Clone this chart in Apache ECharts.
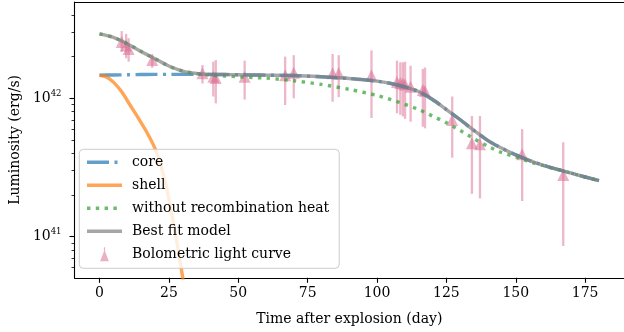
<!DOCTYPE html>
<html><head><meta charset="utf-8">
<script src="https://cdn.jsdelivr.net/npm/echarts@6/dist/echarts.min.js"></script>
<style>html,body{margin:0;padding:0;background:#fff}#c{width:624px;height:332px}</style>
</head><body><div id="c"></div>
<script>
// ---------------- data ----------------
const xTicks = [0, 25, 50, 75, 100, 125, 150, 175];
const yMajorTicks = [1e41, 1e42];
const yMinorTicks = [6e40, 7e40, 8e40, 9e40, 2e41, 3e41, 4e41, 5e41, 6e41, 7e41, 8e41, 9e41, 2e42, 3e42, 4e42, 5e42];

const modelDays = [0, 5, 10, 15, 20, 25, 30, 35, 40, 45, 50, 55, 60, 70, 80, 90, 100, 105, 110, 115, 120, 125, 130, 135, 140, 145, 150, 155, 160, 165, 170, 175, 180];
const bestFit = [2.92e42, 2.76e42, 2.48e42, 2.18e42, 1.93e42, 1.71e42, 1.57e42, 1.51e42, 1.49e42, 1.485e42, 1.48e42, 1.475e42, 1.47e42, 1.46e42, 1.43e42, 1.39e42, 1.33e42, 1.28e42, 1.21e42, 1.12e42, 0.98e42, 0.83e42, 0.70e42, 0.585e42, 0.495e42, 0.435e42, 0.39e42, 0.355e42, 0.328e42, 0.306e42, 0.288e42, 0.27e42, 0.254e42];
const coreLum = [1.47e42, 1.475e42, 1.48e42, 1.485e42, 1.49e42, 1.49e42, 1.49e42, 1.49e42, 1.488e42, 1.485e42, 1.48e42, 1.475e42, 1.47e42, 1.46e42, 1.43e42, 1.39e42, 1.33e42, 1.28e42, 1.21e42, 1.12e42, 0.98e42, 0.83e42, 0.70e42, 0.585e42, 0.495e42, 0.435e42, 0.39e42, 0.355e42, 0.328e42, 0.306e42, 0.288e42, 0.27e42, 0.254e42];
const noRecomb = [2.92e42, 2.76e42, 2.48e42, 2.18e42, 1.93e42, 1.71e42, 1.57e42, 1.51e42, 1.47e42, 1.45e42, 1.43e42, 1.415e42, 1.40e42, 1.34e42, 1.26e42, 1.16e42, 1.05e42, 0.98e42, 0.905e42, 0.83e42, 0.745e42, 0.665e42, 0.585e42, 0.51e42, 0.45e42, 0.405e42, 0.377e42, 0.348e42, 0.326e42, 0.306e42, 0.288e42, 0.27e42, 0.254e42];

const shellDays = [0, 2.5, 5, 8, 11, 14, 17, 20, 22, 24, 26, 28, 30, 32];
const shellLum = [1.469e42, 1.429e42, 1.309e42, 1.114e42, 8.95e41, 7.19e41, 5.71e41, 4.34e41, 3.33e41, 2.33e41, 1.47e41, 8.85e40, 5.04e40, 2.61e40];

const obsDays = [8.0, 9.6, 10.5, 19.0, 37.1, 41.0, 41.9, 52.3, 66.9, 70.0, 84.0, 86.2, 98.0, 107.2, 108.4, 109.3, 110.1, 112.1, 116.5, 117.3, 127.1, 134.2, 137.1, 152.3, 167.1];
const obsLum = [2.55e42, 2.41e42, 2.27e42, 1.89e42, 1.52e42, 1.43e42, 1.40e42, 1.43e42, 1.47e42, 1.53e42, 1.52e42, 1.52e42, 1.46e42, 1.31e42, 1.29e42, 1.28e42, 1.26e42, 1.21e42, 1.15e42, 1.13e42, 6.97e41, 4.73e41, 4.66e41, 3.94e41, 2.79e41];
const obsLow = [2.17e42, 1.95e42, 1.84e42, 1.66e42, 1.28e42, 1.03e42, 9.2e41, 9.8e41, 8.95e41, 1.0e42, 9.45e41, 1.02e42, 7.2e41, 7.8e41, 7.6e41, 7.4e41, 7.1e41, 6.78e41, 6.24e41, 6.07e41, 3.72e41, 2.04e41, 1.89e41, 1.81e41, 8.57e40];
const obsHigh = [3.06e42, 2.92e42, 2.72e42, 2.08e42, 1.74e42, 1.84e42, 1.89e42, 1.87e42, 2.0e42, 2.05e42, 2.09e42, 2.05e42, 2.22e42, 1.87e42, 1.82e42, 1.82e42, 1.84e42, 1.72e42, 1.63e42, 1.67e42, 1.03e42, 7.45e41, 7.45e41, 5.99e41, 4.81e41];

// ---------------- chart ----------------
const FONT = 'DejaVu Serif';
const zip = (xs, ys) => xs.map((x, i) => [x, ys[i]]);
const yMin = Math.pow(10, 40.703), yMax = Math.pow(10, 42.696);
const xMin = -9, xMax = 189;
const pink = '#db7093';
const noSym = {opacity: 0};
const legLine = {width: 3.4};

const chart = echarts.init(document.getElementById('c'), null, {renderer: 'canvas'});
chart.setOption({
  animation: false,
  backgroundColor: '#fff',
  grid: {left: 70.8, top: 2, width: 554.4, bottom: 54.2, containLabel: false},
  xAxis: [{
    type: 'value', min: xMin, max: xMax, position: 'bottom',
    axisLine: {show: true, onZero: false, lineStyle: {color: '#000', width: 1.1}},
    axisTick: {show: true, customValues: xTicks, length: 5, lineStyle: {color: '#000', width: 1.1}},
    axisLabel: {customValues: xTicks, margin: 9, fontFamily: FONT, fontSize: 14, color: '#000'},
    splitLine: {show: false},
    name: 'Time after explosion (day)', nameLocation: 'middle', nameGap: 35,
    nameTextStyle: {fontFamily: FONT, fontSize: 14, color: '#000'}
  }, {
    type: 'value', min: xMin, max: xMax, position: 'top',
    axisLine: {show: true, onZero: false, lineStyle: {color: '#000', width: 1.1}},
    axisTick: {show: false}, axisLabel: {show: false}, splitLine: {show: false}
  }],
  yAxis: [{
    type: 'log', min: yMin, max: yMax, position: 'left',
    axisLine: {show: true, onZero: false, lineStyle: {color: '#000', width: 1.1}},
    axisTick: {show: true, customValues: yMajorTicks, length: 5, lineStyle: {color: '#000', width: 1.1}},
    axisLabel: {
      customValues: yMajorTicks, margin: 13,
      formatter: v => '{b|10}{s|' + Math.round(Math.log10(v)) + '}',
      rich: {
        b: {fontFamily: FONT, fontSize: 14, color: '#000'},
        s: {fontFamily: FONT, fontSize: 8.5, color: '#000', padding: [0, 0, 9, 0]}
      }
    },
    splitLine: {show: false},
    name: 'Luminosity (erg/s)', nameLocation: 'middle', nameGap: 49,
    nameTextStyle: {fontFamily: FONT, fontSize: 14, color: '#000'}
  }, {
    type: 'log', min: yMin, max: yMax, position: 'left',
    axisLine: {show: false, onZero: false},
    axisTick: {show: true, customValues: yMinorTicks, length: 3, lineStyle: {color: '#000', width: 0.8}},
    axisLabel: {show: false}, splitLine: {show: false}
  }],
  legend: {
    orient: 'vertical', left: 79.3, top: 149.3,
    itemWidth: 35, itemHeight: 14, itemGap: 7,
    padding: [5, 10, 6, 6],
    backgroundColor: 'rgba(255,255,255,0.8)', borderColor: '#cccccc', borderWidth: 1, borderRadius: 4,
    textStyle: {fontFamily: FONT, fontSize: 14, color: '#000', lineHeight: 16, padding: [0, 0, 0, 5]},
    data: [
      {name: 'core', itemStyle: noSym, lineStyle: legLine}, {name: 'shell', itemStyle: noSym, lineStyle: legLine},
      {name: 'without recombination heat', itemStyle: noSym, lineStyle: legLine}, {name: 'Best fit model', itemStyle: noSym, lineStyle: legLine},
      {name: 'Bolometric light curve', icon: 'path://M4.3,0 L5.7,0 L5.7,4.82 L10,16 L0,16 L4.3,4.82 Z'}
    ]
  },
  series: [
    {name: 'core', type: 'line', data: zip(modelDays, coreLum), showSymbol: false, symbol: 'none', smooth: 0.25,
     lineStyle: {color: 'rgba(31,119,180,0.7)', width: 3.4, type: [22, 5.5, 3, 5.5]}, itemStyle: {color: 'rgba(31,119,180,0.7)'}},
    {name: 'shell', type: 'line', data: zip(shellDays, shellLum), showSymbol: false, symbol: 'none', smooth: 0.25,
     lineStyle: {color: 'rgba(255,127,14,0.7)', width: 3.4}, itemStyle: {color: 'rgba(255,127,14,0.7)'}},
    {name: 'without recombination heat', type: 'line', data: zip(modelDays, noRecomb), showSymbol: false, symbol: 'none', smooth: 0.25,
     lineStyle: {color: 'rgba(44,160,44,0.7)', width: 3.4, type: [3.4, 5.4]}, itemStyle: {color: 'rgba(44,160,44,0.7)'}},
    {name: 'Best fit model', type: 'line', data: zip(modelDays, bestFit), showSymbol: false, symbol: 'none', smooth: 0.25,
     lineStyle: {color: 'rgba(128,128,128,0.7)', width: 3.4}, itemStyle: {color: 'rgba(128,128,128,0.7)'}},
    {name: 'errbars', type: 'custom', data: obsDays.map((d, i) => [d, obsLow[i], obsHigh[i]]),
     encode: {x: 0, y: [1, 2]},
     renderItem: (params, api) => {
       const p1 = api.coord([api.value(0), api.value(1)]);
       const p2 = api.coord([api.value(0), api.value(2)]);
       return {type: 'line', shape: {x1: p1[0], y1: p1[1], x2: p2[0], y2: p2[1]},
               style: {stroke: 'rgba(219,112,147,0.5)', lineWidth: 2.3}};
     }},
    {name: 'Bolometric light curve', type: 'scatter', data: zip(obsDays, obsLum),
     symbol: 'triangle', symbolSize: 12, itemStyle: {color: pink, opacity: 0.55}}
  ]
});
</script></body></html>
